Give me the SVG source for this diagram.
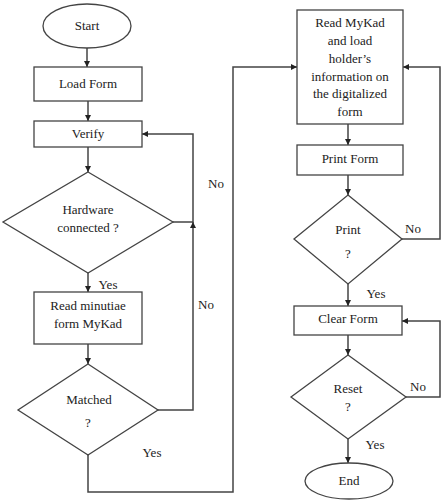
<svg xmlns="http://www.w3.org/2000/svg" width="446" height="502" viewBox="0 0 446 502">
<style>
.s{fill:#fff;stroke:#444;stroke-width:1.3}
.t{font-family:'Liberation Serif','Times New Roman',Times,'DejaVu Serif',serif;font-size:13px;fill:#222;text-anchor:middle}
.c{fill:none;stroke:#444;stroke-width:1.5}
</style>
<defs>
<marker id="a" viewBox="0 0 10 10" refX="10" refY="5" markerWidth="6" markerHeight="6" orient="auto" markerUnits="userSpaceOnUse"><path d="M0,0L10,5L0,10z" fill="#222"/></marker>
</defs>
<rect width="446" height="502" fill="#fff"/>
<g id="connectors">
<path class="c" d="M87,48V67" marker-end="url(#a)"/>
<path class="c" d="M88,101V121" marker-end="url(#a)"/>
<path class="c" d="M88,147V172" marker-end="url(#a)"/>
<path class="c" d="M88,273V292" marker-end="url(#a)"/>
<path class="c" d="M88,344V364" marker-end="url(#a)"/>
<path class="c" d="M173,222H193V134H142" marker-end="url(#a)"/>
<path class="c" d="M158,410H193V222" marker-end="url(#a)"/>
<path class="c" d="M88,455V492H233V67H297" marker-end="url(#a)"/>
<path class="c" d="M348,124V145" marker-end="url(#a)"/>
<path class="c" d="M348,175V195" marker-end="url(#a)"/>
<path class="c" d="M402,239H440V67H403" marker-end="url(#a)"/>
<path class="c" d="M348,284V306" marker-end="url(#a)"/>
<path class="c" d="M348,335V355" marker-end="url(#a)"/>
<path class="c" d="M406,397H440V321H402" marker-end="url(#a)"/>
<path class="c" d="M348,439V463" marker-end="url(#a)"/>
<text class="t" x="216" y="188">No</text>
<text class="t" x="206" y="309">No</text>
<text class="t" x="108" y="289">Yes</text>
<text class="t" x="152" y="457">Yes</text>
<text class="t" x="413" y="233">No</text>
<text class="t" x="376" y="298">Yes</text>
<text class="t" x="418" y="391">No</text>
<text class="t" x="375" y="449">Yes</text>
</g>
<g id="start"><ellipse class="s" cx="87" cy="26" rx="44" ry="22"/><text class="t" x="87" y="30">Start</text></g>
<g id="load"><rect class="s" x="34" y="67" width="108" height="34"/><text class="t" x="88" y="88">Load Form</text></g>
<g id="verify"><rect class="s" x="34" y="121" width="108" height="26"/><text class="t" x="88" y="138">Verify</text></g>
<g id="hardware"><path class="s" d="M88,172L173,222L88,273L3,222z"/><text class="t" x="88" y="214">Hardware</text><text class="t" x="88" y="232">connected ?</text></g>
<g id="minutiae"><rect class="s" x="34" y="292" width="108" height="52"/><text class="t" x="88" y="310">Read minutiae</text><text class="t" x="88" y="328">form MyKad</text></g>
<g id="matched"><path class="s" d="M88,364L158,410L88,455L18,410z"/><text class="t" x="89" y="404">Matched</text><text class="t" x="88" y="427">?</text></g>
<g id="readmykad"><rect class="s" x="297" y="10" width="106" height="114"/>
<text class="t" x="350" y="27">Read MyKad</text><text class="t" x="350" y="45">and load</text><text class="t" x="350" y="63">holder’s</text><text class="t" x="350" y="81">information on</text><text class="t" x="350" y="98">the digitalized</text><text class="t" x="350" y="116">form</text></g>
<g id="printform"><rect class="s" x="297" y="145" width="106" height="30"/><text class="t" x="350" y="163">Print Form</text></g>
<g id="print"><path class="s" d="M348,195L402,239L348,284L294,239z"/><text class="t" x="348" y="234">Print</text><text class="t" x="348" y="258">?</text></g>
<g id="clear"><rect class="s" x="294" y="306" width="108" height="29"/><text class="t" x="348" y="323">Clear Form</text></g>
<g id="reset"><path class="s" d="M348,355L406,397L348,439L291,397z"/><text class="t" x="348" y="393">Reset</text><text class="t" x="348" y="411">?</text></g>
<g id="end"><ellipse class="s" cx="349" cy="481" rx="44" ry="18"/><text class="t" x="349" y="485">End</text></g>
</svg>
